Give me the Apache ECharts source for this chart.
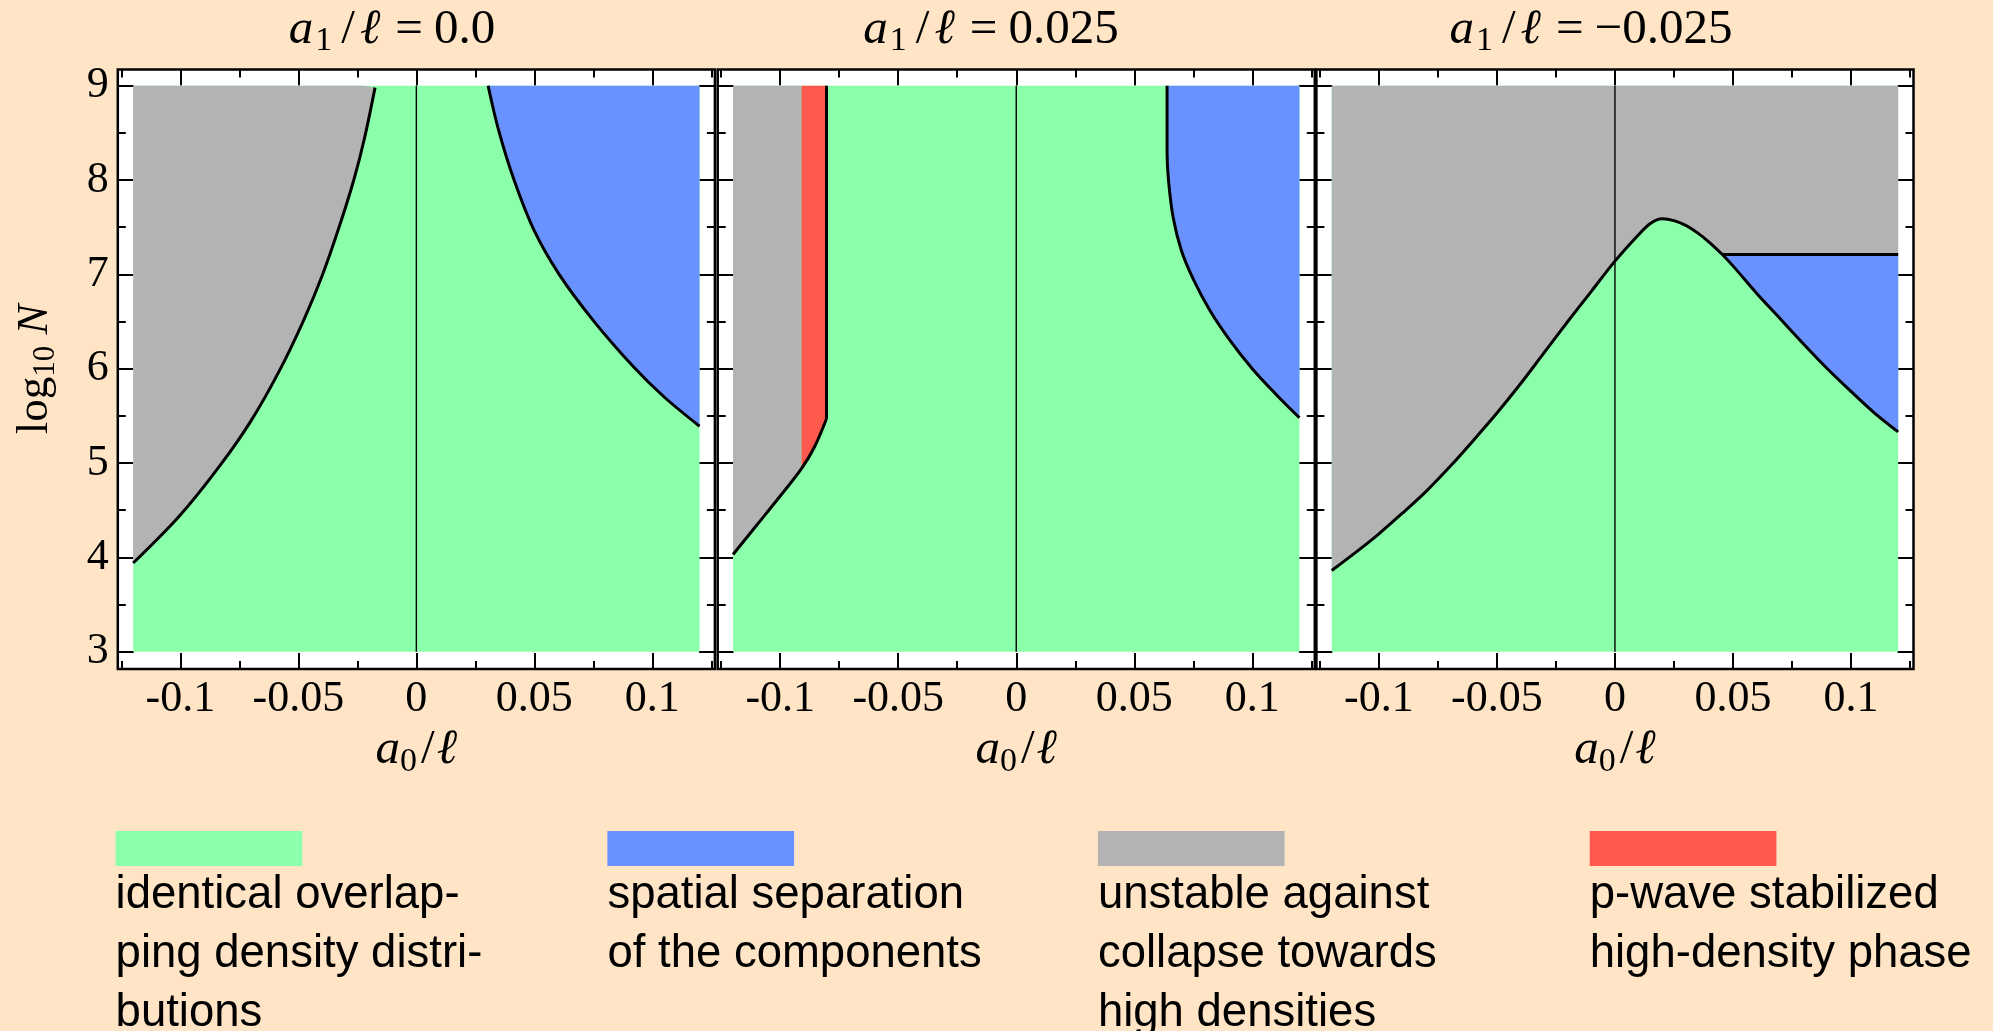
<!DOCTYPE html>
<html><head><meta charset="utf-8">
<script src="https://cdn.jsdelivr.net/npm/echarts@6/dist/echarts.min.js"></script>
<style>html,body{margin:0;padding:0;background:#FFE4C6;} #c{width:1993px;height:1031px;}</style>
</head><body><div id="c"></div>
<script>
// ---------------- data ----------------
const panelTitles = ["0.0", "0.025", "\u22120.025"];
const xMajorTicks = [-0.1, -0.05, 0, 0.05, 0.1];
const xMinorTicks = [-0.125, -0.075, -0.025, 0.025, 0.075, 0.125];
const yMajorTicks = [3, 4, 5, 6, 7, 8, 9];
const yMinorTicks = [3.5, 4.5, 5.5, 6.5, 7.5, 8.5];
const domainX = [-0.12, 0.12];
const domainY = [3, 9];

// panel 1 (a1/l = 0)
const p1Collapse = [[-0.12,3.94],[-0.10,4.45],[-0.083,4.98],[-0.07,5.45],[-0.058,5.98],[-0.048,6.5],[-0.04,6.98],[-0.033,7.48],[-0.0265,8.0],[-0.022,8.44],[-0.0175,8.98]];
const p1Separation = [[0.0304,9.0],[0.035,8.515],[0.0414,8.0],[0.05,7.46],[0.0605,7.0],[0.075,6.51],[0.092,6.02],[0.105,5.70],[0.12,5.39]];
// panel 2 (a1/l = 0.025)
const p2Collapse = [[-0.12,4.03],[-0.11,4.34],[-0.10,4.65],[-0.091,4.94]];
const p2PWave = [[-0.091,4.94],[-0.0855,5.17],[-0.0804,5.47]];
const p2PWaveEdgeX = -0.0804;
const p2Separation = [[0.0639,9.0],[0.0639,8.3],[0.0645,8.0],[0.0665,7.6],[0.07,7.25],[0.075,6.95],[0.082,6.62],[0.09,6.32],[0.10,6.0],[0.11,5.73],[0.12,5.48]];
// panel 3 (a1/l = -0.025)
const p3Collapse = [[-0.12,3.86],[-0.11,4.05],[-0.10,4.25],[-0.09,4.47],[-0.08,4.7],[-0.07,4.96],[-0.06,5.24],[-0.05,5.53],[-0.04,5.84],[-0.03,6.17],[-0.02,6.5],[-0.01,6.82],[0,7.14],[0.01,7.42],[0.015,7.54],[0.02,7.59],[0.025,7.57],[0.03,7.52],[0.035,7.44],[0.04,7.34],[0.0455,7.21],[0.05,7.09],[0.06,6.8],[0.07,6.53],[0.08,6.26],[0.09,6.0],[0.10,5.76],[0.11,5.53],[0.12,5.33]];
const p3SeparationTop = 7.21;
const p3SeparationStartX = 0.0455;

const legendLabels = [
  "identical overlap-\nping density distri-\nbutions",
  "spatial separation\nof the components",
  "unstable against\ncollapse towards\nhigh densities",
  "p-wave stabilized\nhigh-density phase"
];

// ---------------- styles ----------------
const C = { green:'#8CFFAA', blue:'#6A92FF', gray:'#B3B3B3', red:'#FF594D', bg:'#FFE4C6' };
const legendColors = [C.green, C.blue, C.gray, C.red];
const SERIF = '"Liberation Serif", "Times New Roman", serif';
const SANS = '"Liberation Sans", Arial, sans-serif';
const gridLefts = [117.8, 717.7, 1316.4];
const GRID_TOP = 69.5, GRID_W = 597.1, GRID_H = 599.5;
const X_MIN = -0.1265, X_MAX = 0.1265, Y_MIN = 2.8166, Y_MAX = 9.1717;
const SMOOTH = 0.33;

function mathRich(fs, colorKey, eqPad, slPad) {
  const c = {}; c[colorKey] = '#000';
  return {
    n:   Object.assign({ fontFamily: SERIF, fontSize: fs, lineHeight: fs + 8, verticalAlign:'middle' }, c),
    it:  Object.assign({ fontFamily: SERIF, fontSize: fs, fontStyle:'italic', lineHeight: fs + 8, verticalAlign:'middle' }, c),
    ia:  Object.assign({ fontFamily: SERIF, fontSize: fs, fontStyle:'italic', lineHeight: fs + 8, verticalAlign:'middle', padding:[0, 2, 0, 0] }, c),
    sl:  Object.assign({ fontFamily: SERIF, fontSize: fs, lineHeight: fs + 8, verticalAlign:'middle', padding: slPad || [0, 2, 0, 4] }, c),
    eq:  Object.assign({ fontFamily: SERIF, fontSize: fs, lineHeight: fs + 8, verticalAlign:'middle', padding: eqPad || [0, 12, 0, 16] }, c),
    sub: Object.assign({ fontFamily: SERIF, fontSize: Math.round(fs * 0.7), lineHeight: Math.round(fs * 0.5), verticalAlign:'bottom' }, c)
  };
}

const tickLine = { color:'#000', width: 2 };
const noLine = { show:false, onZero:false };

function xAxesFor(gi) {
  const base = { gridIndex: gi, type:'value', min: X_MIN, max: X_MAX, splitLine:{show:false}, axisLine: noLine };
  return [
    Object.assign({}, base, { position:'bottom',
      axisTick:{ show:true, inside:true, length:16, lineStyle:tickLine, customValues:xMajorTicks },
      axisLabel:{ show:true, customValues:xMajorTicks, margin:8, fontSize:44, fontFamily:SERIF, color:'#000', formatter: v => String(v) },
      name:'{it|a}{sub|0}{sl|/}{it|ℓ}', nameLocation:'middle', nameGap:48, nameTextStyle:{ rich: mathRich(49, 'color') } }),
    Object.assign({}, base, { position:'bottom', axisTick:{ show:true, inside:true, length:8, lineStyle:tickLine, customValues:xMinorTicks }, axisLabel:{show:false} }),
    Object.assign({}, base, { position:'top', axisTick:{ show:true, inside:true, length:16, lineStyle:tickLine, customValues:xMajorTicks }, axisLabel:{show:false} }),
    Object.assign({}, base, { position:'top', axisTick:{ show:true, inside:true, length:8, lineStyle:tickLine, customValues:xMinorTicks }, axisLabel:{show:false} })
  ];
}
function yAxesFor(gi) {
  const base = { gridIndex: gi, type:'value', min: Y_MIN, max: Y_MAX, splitLine:{show:false}, axisLine: noLine };
  const left = Object.assign({}, base, { position:'left',
      axisTick:{ show:true, inside:true, length:16, lineStyle:tickLine, customValues:yMajorTicks },
      axisLabel:{ show: gi === 0, customValues:yMajorTicks, margin:9, fontSize:44, fontFamily:SERIF, color:'#000' } });
  if (gi === 0) {
    Object.assign(left, { name:'{n|log}{sub|10}{n| }{it|N}', nameLocation:'middle', nameRotate:90, nameGap:56, nameTextStyle:{ rich: mathRich(45, 'color') } });
  }
  return [
    left,
    Object.assign({}, base, { position:'left', axisTick:{ show:true, inside:true, length:8, lineStyle:tickLine, customValues:yMinorTicks }, axisLabel:{show:false} }),
    Object.assign({}, base, { position:'right', axisTick:{ show:true, inside:true, length:16, lineStyle:tickLine, customValues:yMajorTicks }, axisLabel:{show:false} }),
    Object.assign({}, base, { position:'right', axisTick:{ show:true, inside:true, length:8, lineStyle:tickLine, customValues:yMinorTicks }, axisLabel:{show:false} })
  ];
}

function area(gi, data, origin, color, z, smooth) {
  return { type:'line', xAxisIndex: gi*4, yAxisIndex: gi*4, data, symbol:'none', smooth: smooth === false ? false : SMOOTH, silent:true,
    lineStyle:{ width:0, opacity:0 }, areaStyle:{ color, opacity:1, origin }, z: z || 2, animation:false };
}
function line(gi, data, width, smooth, z) {
  return { type:'line', xAxisIndex: gi*4, yAxisIndex: gi*4, data, symbol:'none', smooth: smooth ? SMOOTH : false, silent:true,
    lineStyle:{ color:'#000', width }, z: z || 5, animation:false };
}
const fullRect = [[domainX[0], domainY[1]], [domainX[1], domainY[1]]];
const zeroLine = [[0, domainY[0]], [0, domainY[1]]];
const BW = 3;

const series = [];
// panel 1
series.push(area(0, fullRect, domainY[0], C.green, 1, false));
series.push(area(0, p1Collapse, domainY[1], C.gray));
series.push(area(0, p1Separation, domainY[1], C.blue));
series.push(line(0, zeroLine, 1.4, false, 4));
series.push(line(0, p1Collapse, BW, true));
series.push(line(0, p1Separation, BW, true));
// panel 2
series.push(area(1, fullRect, domainY[0], C.green, 1, false));
series.push(area(1, p2Collapse, domainY[1], C.gray));
series.push(area(1, p2PWave, domainY[1], C.red));
series.push(area(1, p2Separation, domainY[1], C.blue));
series.push(line(1, zeroLine, 1.4, false, 4));
series.push(line(1, p2Collapse.concat(p2PWave.slice(1)), BW, true));
series.push(line(1, [[p2PWaveEdgeX, p2PWave[p2PWave.length-1][1]], [p2PWaveEdgeX, domainY[1]]], BW, false));
series.push(line(1, p2Separation, BW, true));
// panel 3
const p3Sep = p3Collapse.filter(p => p[0] >= p3SeparationStartX);
series.push(area(2, fullRect, domainY[0], C.green, 1, false));
series.push(area(2, p3Collapse, domainY[1], C.gray));
series.push(area(2, p3Sep, p3SeparationTop, C.blue, 3));
series.push(line(2, zeroLine, 1.4, false, 4));
series.push(line(2, p3Collapse, BW, true));
series.push(line(2, [[p3SeparationStartX, p3SeparationTop], [domainX[1], p3SeparationTop]], BW, false));

// titles + legend (graphic)
const titleCenters = [392, 991, 1591];
const graphic = [];
panelTitles.forEach((t, i) => {
  graphic.push({ type:'text', x: titleCenters[i], y: 30, silent:true,
    style:{ text:'{ia|a}{sub|1}{sl|/}{it|ℓ}{eq|=}{n|' + t + '}', align:'center', verticalAlign:'middle',
      rich: mathRich(49, 'fill', [0, 11, 0, 15], [0, 5, 0, 9]) } });
});
const legendLefts = [115.6, 607.4, 1097.9, 1589.7];
legendLabels.forEach((lab, i) => {
  graphic.push({ type:'rect', x: legendLefts[i], y: 831, silent:true, shape:{ width:186.7, height:35 }, style:{ fill: legendColors[i] } });
  graphic.push({ type:'text', x: legendLefts[i], y: 866, silent:true,
    style:{ text: lab, font: '45.5px ' + SANS, fill:'#000', lineHeight: 59, align:'left', verticalAlign:'top' } });
});

const chart = echarts.init(document.getElementById('c'), null, { renderer:'canvas' });
chart.setOption({
  backgroundColor: C.bg,
  animation: false,
  grid: gridLefts.map(l => ({ left:l, top:GRID_TOP, width:GRID_W, height:GRID_H, show:true, backgroundColor:'#fff', borderColor:'#000', borderWidth:2.5 })),
  xAxis: [0,1,2].flatMap(xAxesFor),
  yAxis: [0,1,2].flatMap(yAxesFor),
  series,
  graphic
});
</script>
</body></html>
